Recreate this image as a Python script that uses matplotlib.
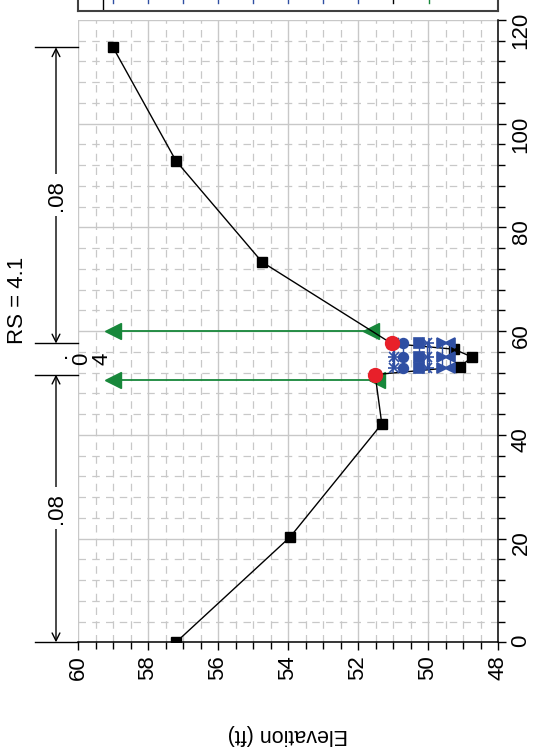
import numpy as np
import matplotlib.pyplot as plt
from matplotlib.transforms import blended_transform_factory

plt.rcParams['font.family'] = ['Liberation Sans', 'DejaVu Sans']

# cross section data (station ft, elevation ft)
ground_sta = [0, 20.3, 42.1, 51.6, 53.1, 55.0, 56.5, 57.6, 73.3, 92.8, 114.7]
ground_elev = [57.2, 53.94, 51.32, 51.51, 49.09, 48.74, 49.26, 51.04, 54.74, 57.2, 59.0]
bank_sta = [51.6, 57.6]
bank_elev = [51.51, 51.04]
ineff_sta = [50.6, 60.05]
ineff_top = [59.0, 59.0]
ineff_bot = [51.47, 51.63]

# water surfaces for the profiles
ws_sta = [52.9, 55.0, 57.7]
ws_elev = [51.0, 50.97, 50.71, 50.26, 50.02, 49.98, 49.6, 49.37]
ws_marker = ['+', 'x', 'o', 's', 'x', '+', '>', '<']

# manning n breaks
n_breaks = [0, 51.6, 57.6, 114.7]
n_values = ['.08', '.04', '.08']

title = 'RS = 4.1'
elev_label = 'Elevation (ft)'

BLUE = '#2f4fa3'
RED = '#e8202a'
GREEN = '#17873a'
GRID = '#c8c8c8'

W, H = 539, 750
fig = plt.figure(figsize=(W / 100, H / 100), dpi=100)
L, R, T, B = 78, 498, 19.8, 642.3
ax = fig.add_axes([L / W, 1 - B / H, (R - L) / W, (B - T) / H])

ax.set_xlim(60, 48)
ax.set_ylim(0, 120)
ax.set_xticks(np.arange(48, 60.1, 2))
ax.set_xticks(np.arange(48, 60.1, 0.5), minor=True)
ax.set_yticks(np.arange(0, 121, 20))
ax.set_yticks(np.arange(0, 121, 4), minor=True)
ax.yaxis.tick_right()
ax.tick_params(axis='both', which='major', length=6, width=1, labelsize=16, pad=3)
ax.tick_params(axis='both', which='minor', length=5, width=1)
ax.tick_params(axis='x', labelrotation=90)
ax.tick_params(axis='y', labelrotation=90)
ax.grid(which='major', color=GRID, lw=1, ls='-')
ax.grid(which='minor', color=GRID, lw=0.9, ls=(0, (6, 5)))
ax.set_axisbelow(True)
for s in ['left', 'top']:
    ax.spines[s].set_visible(False)
for s in ['bottom', 'right']:
    ax.spines[s].set_linewidth(1.1)

# ineffective markers
for s, t, b in zip(ineff_sta, ineff_top, ineff_bot):
    ax.plot([t, b], [s, s], color=GREEN, lw=1.3, marker='<', ms=11, zorder=3)

# ground
ax.plot(ground_elev, ground_sta, color='k', lw=1, marker='s', ms=6.5, zorder=4)

# water surfaces
for e, m in zip(ws_elev, ws_marker):
    ax.plot([e] * len(ws_sta), ws_sta, color=BLUE, lw=1, marker=m, ms=7,
            mew=1.2, zorder=5)

# bank stations
ax.plot(bank_elev, bank_sta, ls='none', marker='o', color=RED, ms=10, zorder=6)

# n value dimension lines on the left
trans = blended_transform_factory(ax.transAxes, ax.transData)
x0 = (35 - L) / (R - L)
xa = (56 - L) / (R - L)
for s in n_breaks:
    ax.plot([x0, 0], [s, s], color='k', lw=1, transform=trans, clip_on=False)
for i, nv in enumerate(n_values):
    s0, s1 = n_breaks[i], n_breaks[i + 1]
    mid = (s0 + s1) / 2
    if s1 - s0 > 20:
        ax.annotate('', xy=(xa, s0), xytext=(xa, s1), xycoords=trans,
                    textcoords=trans,
                    arrowprops=dict(arrowstyle='<->', color='k', lw=1,
                                    shrinkA=0, shrinkB=0, mutation_scale=14))
        ax.text(xa, mid, nv, transform=trans, rotation=90, fontsize=16,
                ha='center', va='center',
                bbox=dict(facecolor='white', edgecolor='none', pad=4))
    else:
        # narrow span: characters stacked one per line
        for ch, px in zip(nv, [66, 87, 108]):
            if ch == '.':
                ax.text((px - L) / (R - L), mid, ch, transform=trans,
                        fontsize=16, ha='center', va='baseline')
            else:
                ax.text((px - L) / (R - L), mid, ch, transform=trans,
                        rotation=90, rotation_mode='anchor', fontsize=16,
                        ha='center', va='baseline')

fig.text(18 / W, 1 - 300 / H, title, rotation=90, fontsize=16,
         ha='center', va='center')
fig.text((L + R) / 2 / W, 1 - 735 / H, elev_label, rotation=180, fontsize=15.5,
         ha='center', va='center')

# legend box (mostly cut off at the top)
lax = fig.add_axes([L / W, 1 - 10.6 / H, (R - L) / W, 0.05])
lax.set_xlim(0, R - L)
lax.set_ylim(0, 37.5)
lax.set_xticks([])
lax.set_yticks([])
for s in lax.spines.values():
    s.set_color('#404040')
    s.set_linewidth(1.5)
lax.plot([25, 25], [0, 37.5], color='k', lw=1)
legend_colors = [BLUE] * len(ws_elev) + ['k', GREEN]
for i, c in enumerate(legend_colors):
    x = 34.6 + 35.1 * i
    lax.plot([x, x], [7.8, 37.5], color=c, lw=1)

fig.savefig('out.png', dpi=100)
